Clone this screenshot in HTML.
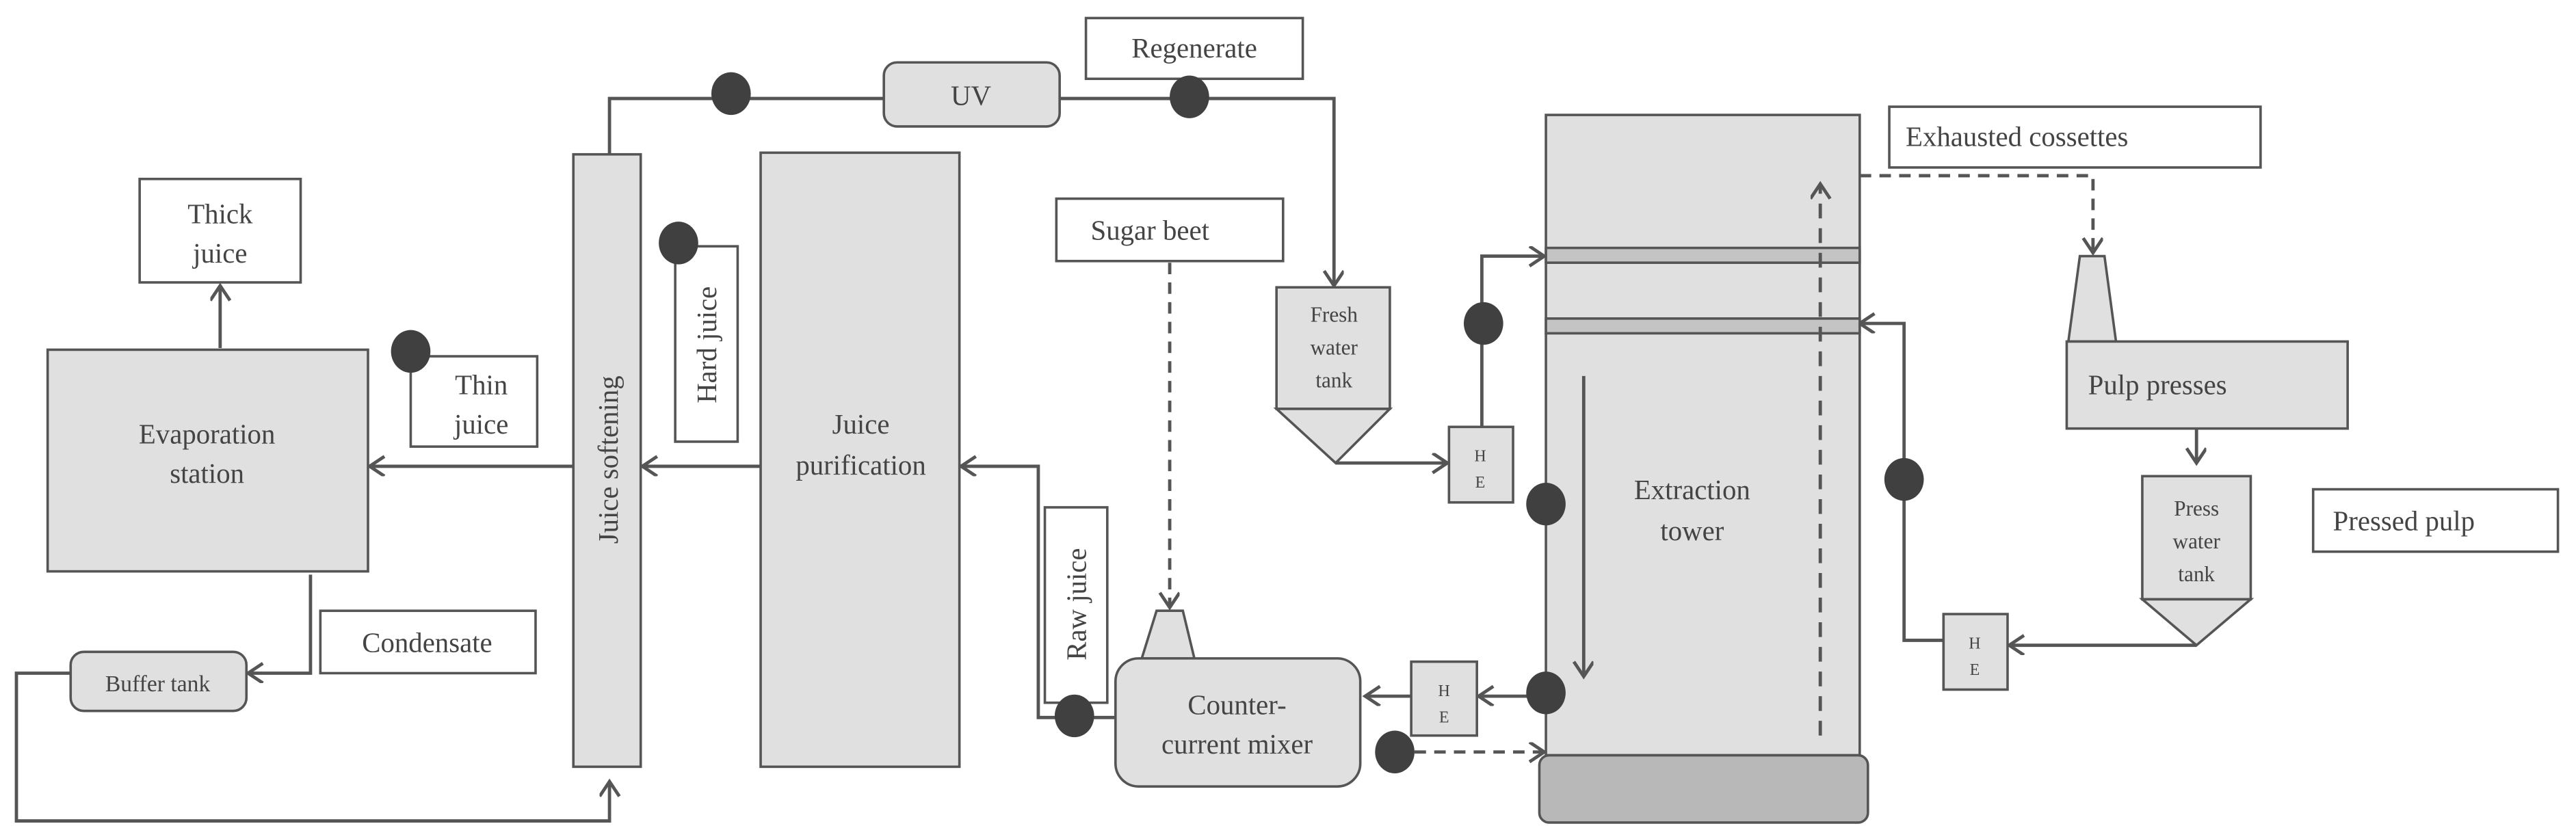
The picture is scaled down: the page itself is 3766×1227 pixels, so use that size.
<!DOCTYPE html>
<html><head><meta charset="utf-8"><style>
html,body{margin:0;padding:0;background:#fff;}
svg{display:block;}
svg text{font-family:"Liberation Serif","DejaVu Serif",serif !important;fill:#444;}
</style></head><body>
<svg width="3766" height="1227" viewBox="0 0 1568 511" preserveAspectRatio="none" xmlns="http://www.w3.org/2000/svg" font-family="Liberation Serif, DejaVu Serif, serif">
<defs>
<marker id="a" markerUnits="userSpaceOnUse" markerWidth="14" markerHeight="14" refX="10" refY="6" orient="auto">
<path d="M1,0 L10,6 L1,12" fill="none" stroke="#555" stroke-width="2"/>
</marker>
</defs>
<g stroke="#555" stroke-width="2" fill="none">
<path d="M134,212 L134,174" marker-end="url(#a)"/>
<path d="M349,284 L225,284" marker-end="url(#a)"/>
<path d="M463,284 L391,284" marker-end="url(#a)"/>
<path d="M679,437 L632,437 L632,284 L585,284" marker-end="url(#a)"/>
<path d="M371,94 L371,60 L538,60"/>
<path d="M645,60 L812,60 L812,174" marker-end="url(#a)"/>
<path d="M813,282 L881,282" marker-end="url(#a)"/>
<path d="M902,260 L902,156 L940,156" marker-end="url(#a)"/>
<path d="M941,424 L900,424" marker-end="url(#a)"/>
<path d="M859,424 L831,424" marker-end="url(#a)"/>
<path d="M1337,393 L1223,393" marker-end="url(#a)"/>
<path d="M1183,390 L1159,390 L1159,197 L1132,197" marker-end="url(#a)"/>
<path d="M1337,261 L1337,282" marker-end="url(#a)"/>
<path d="M189,350 L189,410 L151,410" marker-end="url(#a)"/>
<path d="M43,410 L10,410 L10,500 L371,500 L371,476" marker-end="url(#a)"/>
<path d="M712,160 L712,370" stroke-dasharray="7,5" marker-end="url(#a)"/>
<path d="M849,458 L940,458" stroke-dasharray="7,5" marker-end="url(#a)"/>
<path d="M1132,107 L1274,107 L1274,154" stroke-dasharray="7,5" marker-end="url(#a)"/>
</g>
<g stroke="#555" stroke-width="1.5">
<rect x="85" y="109" width="98" height="63" fill="#fff"/>
<rect x="250" y="217" width="77" height="55" fill="#fff"/>
<rect x="661" y="11" width="132" height="37" fill="#fff"/>
<rect x="643" y="121" width="138" height="38" fill="#fff"/>
<rect x="411" y="150" width="38" height="119" fill="#fff"/>
<rect x="636" y="309" width="38" height="119" fill="#fff"/>
<rect x="195" y="372" width="131" height="38" fill="#fff"/>
<rect x="1150" y="65" width="226" height="37" fill="#fff"/>
<rect x="1408" y="298" width="149" height="38" fill="#fff"/>
<rect x="29" y="213" width="195" height="135" fill="#e0e0e0"/>
<rect x="349" y="94" width="41" height="373" fill="#e0e0e0"/>
<rect x="463" y="93" width="121" height="374" fill="#e0e0e0"/>
<rect x="538" y="38" width="107" height="39" rx="8" fill="#e0e0e0"/>
<rect x="43" y="397" width="107" height="36" rx="8" fill="#e0e0e0"/>
<polygon points="704,372 720,372 727,401 695,401" fill="#e0e0e0"/>
<rect x="679" y="401" width="149" height="78" rx="14" fill="#e0e0e0"/>
<rect x="777" y="175" width="69" height="74" fill="#e0e0e0"/>
<polygon points="777,249 846,249 813,282" fill="#e0e0e0"/>
<rect x="882" y="260" width="39" height="46" fill="#e0e0e0"/>
<rect x="859" y="403" width="40" height="45" fill="#e0e0e0"/>
<rect x="1183" y="374" width="39" height="46" fill="#e0e0e0"/>
<rect x="941" y="70" width="191" height="390" fill="#e0e0e0"/>
<rect x="941" y="151" width="191" height="9" fill="#c4c4c4"/>
<rect x="941" y="194" width="191" height="9" fill="#c4c4c4"/>
<rect x="937" y="460" width="200" height="41" rx="6" fill="#b8b8b8"/>
<polygon points="1266,156 1281,156 1288,208 1259,208" fill="#e0e0e0"/>
<rect x="1258" y="208" width="171" height="53" fill="#e0e0e0"/>
<rect x="1304" y="290" width="66" height="75" fill="#e0e0e0"/>
<polygon points="1304,365 1370,365 1337,393" fill="#e0e0e0"/>
</g>
<g stroke="#555" stroke-width="2" fill="none">
<path d="M964,229 L964,412" marker-end="url(#a)"/>
<path d="M1108,448 L1108,112" stroke-dasharray="9,6" marker-end="url(#a)"/>
</g>
<g fill="#404040">
<ellipse cx="250" cy="214" rx="12" ry="13"/>
<ellipse cx="413" cy="148" rx="12" ry="13"/>
<ellipse cx="445" cy="57" rx="12" ry="13"/>
<ellipse cx="724" cy="59" rx="12" ry="13"/>
<ellipse cx="654" cy="436" rx="12" ry="13"/>
<ellipse cx="849" cy="458" rx="12" ry="13"/>
<ellipse cx="903" cy="197" rx="12" ry="13"/>
<ellipse cx="941" cy="307" rx="12" ry="13"/>
<ellipse cx="941" cy="422" rx="12" ry="13"/>
<ellipse cx="1159" cy="292" rx="12" ry="13"/>
</g>
<g font-size="17" text-anchor="middle">
<text x="134" y="136">Thick</text>
<text x="134" y="160">juice</text>
<text x="126" y="270">Evaporation</text>
<text x="126" y="294">station</text>
<text x="293" y="240">Thin</text>
<text x="293" y="264">juice</text>
<text x="727" y="35">Regenerate</text>
<text x="591" y="64">UV</text>
<text x="700" y="146">Sugar beet</text>
<text x="524" y="264">Juice</text>
<text x="524" y="289">purification</text>
<text x="260" y="397">Condensate</text>
<text x="96" y="421" font-size="14">Buffer tank</text>
<text x="753" y="435">Counter-</text>
<text x="753" y="459">current mixer</text>
<text x="1030" y="304">Extraction</text>
<text x="1030" y="329">tower</text>
<text x="1160" y="89" text-anchor="start">Exhausted cossettes</text>
<text x="1271" y="240" text-anchor="start">Pulp presses</text>
<text x="1420" y="323" text-anchor="start">Pressed pulp</text>
<text transform="translate(376,280) rotate(-90)">Juice softening</text>
<text transform="translate(436,210) rotate(-90)">Hard juice</text>
<text transform="translate(661,368) rotate(-90)">Raw juice</text>
</g>
<g font-size="13" text-anchor="middle">
<text x="812" y="196">Fresh</text>
<text x="812" y="216">water</text>
<text x="812" y="236">tank</text>
<text x="1337" y="314">Press</text>
<text x="1337" y="334">water</text>
<text x="1337" y="354">tank</text>
<text x="901" y="281" font-size="10">H</text>
<text x="901" y="297" font-size="10">E</text>
<text x="879" y="424" font-size="10">H</text>
<text x="879" y="440" font-size="10">E</text>
<text x="1202" y="395" font-size="10">H</text>
<text x="1202" y="411" font-size="10">E</text>
</g>
</svg>
</body></html>
